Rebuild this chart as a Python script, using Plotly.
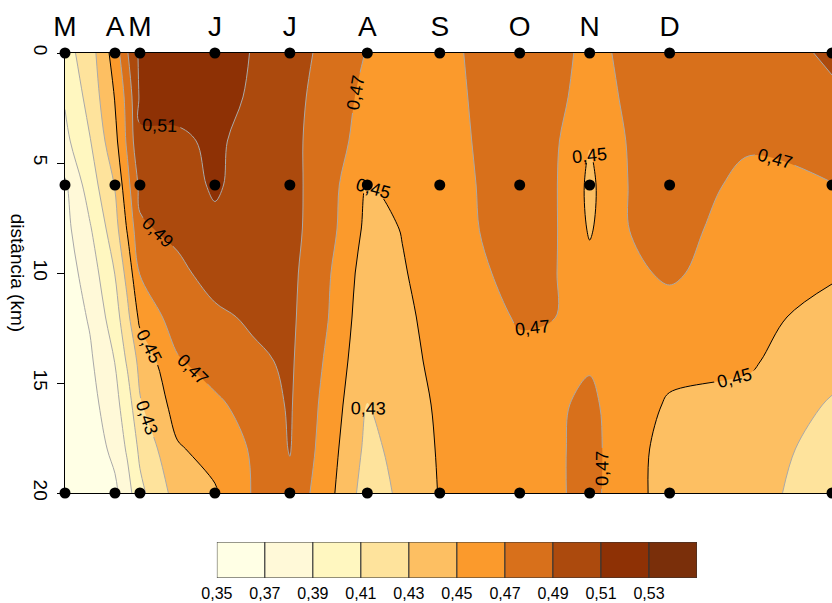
import plotly.graph_objects as go

# ---- axis / sampling info ----
months = ["M", "A", "M", "J", "J", "A", "S", "O", "N", "D", "F"]
sample_days = [0, 20, 30, 60, 90, 121, 150, 182, 210, 242, 307]
sample_depths = [0, 6, 20]

# ---- gridded field ----
grid_days = [0, 10, 20, 25, 30, 45, 60, 75, 90, 105, 121, 135, 150, 166, 182, 196, 210, 226, 242, 274, 307]
grid_depths = [0, 2, 4, 6, 8, 10, 12, 14, 16, 18, 20]

z_00km = [0.402, 0.421, 0.459, 0.489, 0.514, 0.518, 0.522, 0.509, 0.498, 0.485, 0.469, 0.463, 0.464, 0.474, 0.482, 0.476, 0.465, 0.474, 0.480, 0.483, 0.492]
z_02km = [0.392, 0.417, 0.451, 0.477, 0.513, 0.520, 0.525, 0.505, 0.497, 0.481, 0.465, 0.461, 0.463, 0.473, 0.482, 0.475, 0.462, 0.473, 0.480, 0.481, 0.488]
z_04km = [0.385, 0.409, 0.444, 0.474, 0.508, 0.505, 0.515, 0.500, 0.497, 0.477, 0.464, 0.459, 0.462, 0.472, 0.481, 0.473, 0.451, 0.472, 0.479, 0.472, 0.478]
z_06km = [0.367, 0.400, 0.431, 0.464, 0.495, 0.500, 0.513, 0.500, 0.496, 0.479, 0.449, 0.455, 0.460, 0.471, 0.480, 0.472, 0.446, 0.471, 0.478, 0.466, 0.4695]
z_08km = [0.364, 0.388, 0.422, 0.452, 0.487, 0.495, 0.505, 0.500, 0.496, 0.478, 0.445, 0.4505, 0.458, 0.4702, 0.479, 0.472, 0.448, 0.4702, 0.476, 0.462, 0.463]
z_10km = [0.360, 0.379, 0.4105, 0.437, 0.471, 0.485, 0.498, 0.496, 0.495, 0.473, 0.440, 0.449, 0.456, 0.467, 0.477, 0.471, 0.456, 0.466, 0.473, 0.458, 0.452]
z_12km = [0.358, 0.372, 0.401, 0.425, 0.455, 0.480, 0.486, 0.493, 0.494, 0.471, 0.437, 0.447, 0.455, 0.463, 0.472, 0.4702, 0.462, 0.460, 0.462, 0.455, 0.444]
z_14km = [0.356, 0.367, 0.3905, 0.413, 0.436, 0.468, 0.479, 0.486, 0.493, 0.467, 0.434, 0.445, 0.454, 0.460, 0.465, 0.466, 0.468, 0.458, 0.455, 0.452, 0.437]
z_16km = [0.355, 0.362, 0.384, 0.400, 0.428, 0.458, 0.466, 0.478, 0.492, 0.463, 0.4298, 0.440, 0.453, 0.458, 0.462, 0.467, 0.474, 0.458, 0.448, 0.445, 0.428]
z_18km = [0.354, 0.359, 0.375, 0.393, 0.414, 0.448, 0.457, 0.472, 0.491, 0.460, 0.425, 0.436, 0.452, 0.457, 0.461, 0.467, 0.476, 0.457, 0.443, 0.440, 0.422]
z_20km = [0.353, 0.357, 0.366, 0.382, 0.405, 0.438, 0.448, 0.471, 0.485, 0.457, 0.420, 0.434, 0.451, 0.456, 0.460, 0.467, 0.476, 0.456, 0.443, 0.438, 0.418]

z_rows = [z_00km, z_02km, z_04km, z_06km, z_08km, z_10km, z_12km, z_14km, z_16km, z_18km, z_20km]

# ---- legend levels and colours ----
levels = [0.35, 0.37, 0.39, 0.41, 0.43, 0.45, 0.47, 0.49, 0.51, 0.53, 0.55]
band_colors = ["#FFFFE5", "#FFF9D8", "#FFF7C0", "#FEE39C", "#FDBF62",
               "#FB9A2C", "#D8701B", "#AC4A0D", "#8E3105", "#7A2F0A"]

FONT = "Liberation Sans, Arial, sans-serif"
GRAY = "#A9A9A9"

colorscale = [[i / (len(band_colors) - 1), c] for i, c in enumerate(band_colors)]

fig = go.Figure()

# filled field
fig.add_trace(go.Contour(
    x=grid_days, y=grid_depths, z=z_rows,
    autocontour=False,
    contours=dict(start=levels[1], end=levels[-2] + 0.001, size=0.02,
                  coloring="fill", showlines=False),
    colorscale=colorscale, showscale=False, hoverinfo="skip",
))

def line_trace(lo, hi, color, labels):
    return go.Contour(
        x=grid_days, y=grid_depths, z=z_rows,
        autocontour=False,
        contours=dict(start=lo, end=hi + 0.001, size=0.02, coloring="none",
                      showlines=True, showlabels=labels,
                      labelfont=dict(family=FONT, size=18, color="black"),
                      labelformat=".2f"),
        line=dict(color=color, width=1),
        showscale=False, hoverinfo="skip",
    )

fig.add_trace(line_trace(levels[1], levels[3], GRAY, False))
fig.add_trace(line_trace(levels[4], levels[4], GRAY, True))
fig.add_trace(line_trace(levels[5], levels[5], "black", True))
fig.add_trace(line_trace(levels[6], levels[8], GRAY, True))

# sampling points
pts_x = [d for _ in sample_depths for d in sample_days]
pts_y = [k for k in sample_depths for _ in sample_days]
fig.add_trace(go.Scatter(
    x=pts_x, y=pts_y, mode="markers",
    marker=dict(color="black", size=11),
    cliponaxis=False, showlegend=False, hoverinfo="skip",
))

# colour key
band_centers = [(a + b) / 2 for a, b in zip(levels[:-1], levels[1:])]
fig.add_trace(go.Bar(
    x=band_centers, y=[1] * len(band_centers), width=0.02,
    marker=dict(color=band_colors, line=dict(color="#333333", width=1)),
    xaxis="x2", yaxis="y2", showlegend=False, hoverinfo="skip",
))

fig.update_layout(
    template="none",
    width=832, height=603,
    margin=dict(l=65, r=0, t=53, b=0, autoexpand=False),
    paper_bgcolor="white", plot_bgcolor="white",
    separators=",.",
    font=dict(family=FONT, color="black"),
    showlegend=False,
    xaxis=dict(range=[0, 307], side="top", tickvals=sample_days, ticktext=months,
               tickfont=dict(size=28), ticks="", showline=True, linecolor="black",
               linewidth=1, mirror=True, showgrid=False, zeroline=False,
               ticklabelstandoff=5, anchor="y", domain=[0, 1], automargin=False),
    yaxis=dict(range=[20, 0], domain=[0.2, 1], tickvals=[0, 5, 10, 15, 20],
               tickangle=90, ticks="outside", ticklen=7, tickcolor="black",
               tickfont=dict(size=19), showline=True, linecolor="black",
               showgrid=False, zeroline=False, anchor="x", automargin=False),
    xaxis2=dict(domain=[0.198, 0.824], range=[levels[0], levels[-1]], anchor="y2",
                tickvals=levels[:-1], tickformat=".2f", ticks="", showline=False,
                showgrid=False, zeroline=False, tickfont=dict(size=16),
                ticklabelstandoff=4, automargin=False),
    yaxis2=dict(domain=[0.0455, 0.1109], range=[0, 1], visible=False, anchor="x2",
                automargin=False),
    annotations=[dict(text="distância (km)", xref="paper", yref="paper",
                      x=-0.061, y=0.6, textangle=90, showarrow=False,
                      xanchor="center", yanchor="middle", font=dict(size=19))],
)

fig.write_html("out.html")
